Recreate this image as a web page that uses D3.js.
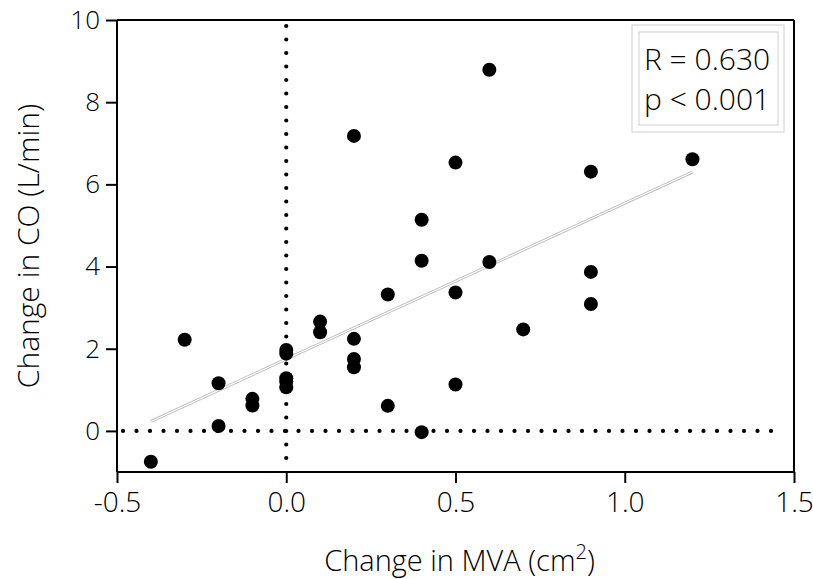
<!DOCTYPE html>
<html><head><meta charset="utf-8">
<script src="https://cdn.jsdelivr.net/npm/d3@7"></script>
<style>body{margin:0;background:#fff}svg{display:block}text{font-family:"Open Sans",sans-serif;font-weight:300;fill:#000}</style>
</head><body><svg id="c" width="813" height="579"></svg>
<script>
const mvaChange = [-0.4,-0.3,-0.2,-0.2,-0.1,-0.1,0.0,0.0,0.0,0.0,0.0,0.1,0.1,0.2,0.2,0.2,0.2,0.3,0.3,0.4,0.4,0.4,0.5,0.5,0.5,0.6,0.6,0.7,0.9,0.9,0.9,1.2];
const coChange  = [-0.75,2.22,1.16,0.12,0.78,0.62,1.97,1.88,1.28,1.20,1.06,2.66,2.40,2.24,1.75,1.55,7.18,3.32,0.61,5.14,4.14,-0.03,6.53,3.37,1.13,8.79,4.11,2.47,6.31,3.87,3.09,6.61];
const trendX = [-0.4, 1.2];
const trendY = [0.23, 6.30];
const xTicks = [-0.5,0.0,0.5,1.0,1.5];
const yTicks = [0,2,4,6,8,10];
const statLines = ["R = 0.630","p < 0.001"];

const svg = d3.select("#c");
const L=117,R=794,T=20,B=472;
const x = d3.scaleLinear().domain([-0.5,1.5]).range([L,R]);
const y = d3.scaleLinear().domain([-1,10]).range([B,T]);

svg.append("line").attr("x1",L).attr("x2",R).attr("y1",T).attr("y2",T).attr("stroke","#000").attr("stroke-width",2);
svg.append("line").attr("x1",R).attr("x2",R).attr("y1",T).attr("y2",B).attr("stroke","#000").attr("stroke-width",2);

const fmtX = d => d3.format(".1f")(d).replace("\u2212","-");
const xa = svg.append("g").attr("transform",`translate(0,${B})`)
  .call(d3.axisBottom(x).tickValues(xTicks).tickFormat(fmtX).tickSizeOuter(0).tickSize(11).tickPadding(9));
const ya = svg.append("g").attr("transform",`translate(${L},0)`)
  .call(d3.axisLeft(y).tickValues(yTicks).tickFormat(d3.format("d")).tickSizeOuter(0).tickSize(11).tickPadding(6));
[xa,ya].forEach(a=>{
  a.select(".domain").attr("stroke","#000").attr("stroke-width",2);
  a.selectAll(".tick line").attr("stroke","#000").attr("stroke-width",2);
  a.selectAll("text").attr("font-family","'Open Sans',sans-serif").attr("font-weight",300).attr("fill","#000");
});
xa.selectAll("text").attr("font-size",28);
ya.selectAll("text").attr("font-size",26);
ya.select(".domain").attr("d",`M0,${B}V${T}`);
xa.select(".domain").attr("d",`M${L},0H${R}`);

svg.append("line").attr("x1",x(0)).attr("x2",x(0)).attr("y1",T+6).attr("y2",B-4)
  .attr("stroke","#000").attr("stroke-width",4.2).attr("stroke-linecap","round").attr("stroke-dasharray","0 13.5");
svg.append("line").attr("x1",L+6).attr("x2",R-14).attr("y1",y(0)).attr("y2",y(0))
  .attr("stroke","#000").attr("stroke-width",4.2).attr("stroke-linecap","round").attr("stroke-dasharray","0 13.5");

const tl = d3.line().x((d,i)=>x(trendX[i])).y((d,i)=>y(trendY[i]));
svg.append("path").attr("d",tl(trendX)).attr("stroke","#bdbdbd").attr("stroke-width",3).attr("fill","none");
svg.append("path").attr("d",tl(trendX)).attr("stroke","#fff").attr("stroke-width",1.2).attr("fill","none");

svg.append("g").selectAll("circle").data(mvaChange).join("circle")
  .attr("cx",(d)=>x(d)).attr("cy",(d,i)=>y(coChange[i])).attr("r",7).attr("fill","#000");

svg.append("rect").attr("x",632).attr("y",25).attr("width",152).attr("height",107).attr("fill","#fff").attr("stroke","#d0d0d0").attr("stroke-width",1);
svg.append("rect").attr("x",639).attr("y",32).attr("width",139).attr("height",93).attr("fill","none").attr("stroke","#d0d0d0").attr("stroke-width",1);
svg.append("g").selectAll("text").data(statLines).join("text")
  .attr("x",644).attr("y",(d,i)=>70+i*40).attr("font-size",30).text(d=>d);

const xt = svg.append("text").attr("x",(L+R)/2+4).attr("y",571).attr("text-anchor","middle").attr("font-size",29);
xt.append("tspan").text("Change in MVA (cm");
xt.append("tspan").attr("dy",-12).attr("font-size",20).text("2");
xt.append("tspan").attr("dy",12).text(")");
svg.append("text").attr("transform",`translate(39,${(T+B)/2}) rotate(-90)`).attr("text-anchor","middle").attr("font-size",30).text("Change in CO (L/min)");
</script></body></html>
